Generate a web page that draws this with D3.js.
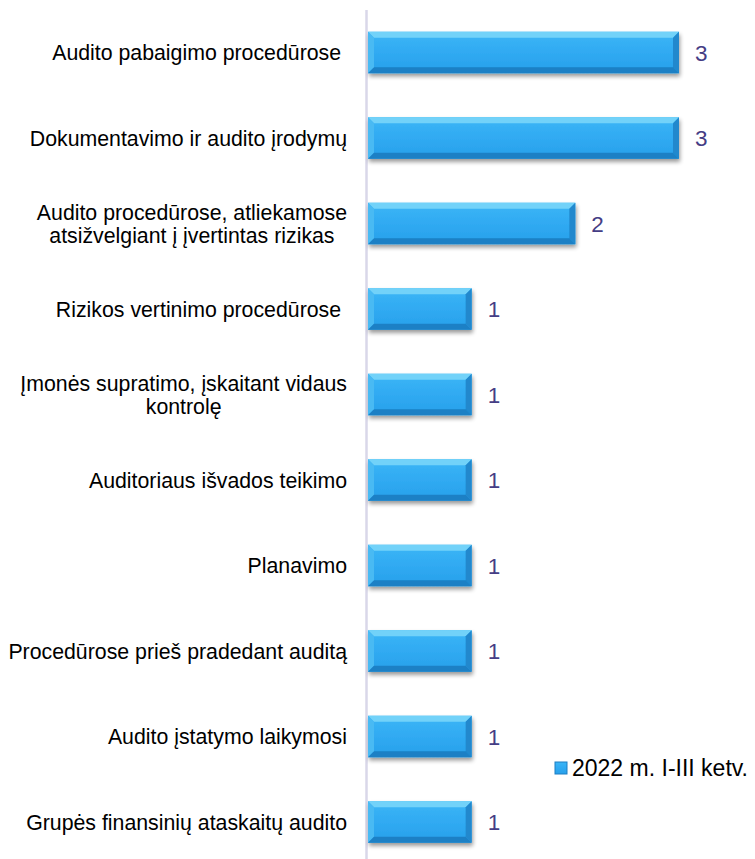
<!DOCTYPE html>
<html>
<head>
<meta charset="utf-8">
<script src="https://cdn.jsdelivr.net/npm/d3@7"></script>
<style>
  body { margin: 0; background: #fff; }
  svg { display: block; font-family: "Liberation Sans", Arial, sans-serif; }
</style>
</head>
<body>
<script>
// categories, top to bottom (each entry = lines of the label)
const categories = [
  ["Audito pabaigimo procedūrose "],
  ["Dokumentavimo ir audito įrodymų"],
  ["Audito procedūrose, atliekamose", "atsižvelgiant į įvertintas rizikas"],
  ["Rizikos vertinimo procedūrose "],
  ["Įmonės supratimo, įskaitant vidaus", "kontrolę"],
  ["Auditoriaus išvados teikimo"],
  ["Planavimo"],
  ["Procedūrose prieš pradedant auditą"],
  ["Audito įstatymo laikymosi"],
  ["Grupės finansinių ataskaitų audito"]
];
const values = [3, 3, 2, 1, 1, 1, 1, 1, 1, 1];
const seriesName = "2022 m. I-III ketv.";

const width = 755, height = 859;

const svg = d3.select("body").append("svg")
  .attr("width", width)
  .attr("height", height);

const data = categories.map((c, i) => ({ lines: c, value: values[i], key: i }));

const x = d3.scaleLinear().domain([0, 3]).range([368, 679]);
const y = d3.scaleBand()
  .domain(data.map(d => d.key))
  .range([9.75, 864.75])
  .paddingInner(0.515)
  .paddingOuter(0.2575);

// defs: gradient + shadow
const defs = svg.append("defs");
const grad = defs.append("linearGradient")
  .attr("id", "barGrad").attr("x1", 0).attr("y1", 0).attr("x2", 0).attr("y2", 1);
grad.append("stop").attr("offset", "0%").attr("stop-color", "#3cb6f6");
grad.append("stop").attr("offset", "50%").attr("stop-color", "#30aaf2");
grad.append("stop").attr("offset", "100%").attr("stop-color", "#28a0ea");

const shadow = defs.append("filter").attr("id", "shadow")
  .attr("x", "-10%").attr("y", "-20%").attr("width", "120%").attr("height", "160%");
shadow.append("feGaussianBlur").attr("in", "SourceAlpha").attr("stdDeviation", 2);
shadow.append("feOffset").attr("dx", 1).attr("dy", 3).attr("result", "ob");
shadow.append("feComponentTransfer").append("feFuncA").attr("type", "linear").attr("slope", 0.4);
const merge = shadow.append("feMerge");
merge.append("feMergeNode");
merge.append("feMergeNode").attr("in", "SourceGraphic");

// axis line
svg.append("line")
  .attr("x1", x(0) - 1.5).attr("x2", x(0) - 1.5)
  .attr("y1", 10).attr("y2", height)
  .attr("stroke", "#d9d7e9").attr("stroke-width", 2.5);

// bars with bevel
const bev = 6;
const bars = svg.append("g").selectAll("g")
  .data(data).join("g")
  .attr("filter", "url(#shadow)");

bars.append("rect")
  .attr("x", x(0)).attr("y", d => y(d.key))
  .attr("width", d => x(d.value) - x(0))
  .attr("height", y.bandwidth())
  .attr("fill", "url(#barGrad)");

function facet(d, side) {
  const x0 = x(0), x1 = x(d.value), y0 = y(d.key), y1 = y0 + y.bandwidth();
  const b = bev;
  if (side === "top") return `M${x0},${y0}L${x1},${y0}L${x1 - b},${y0 + b}L${x0 + b},${y0 + b}Z`;
  if (side === "bottom") return `M${x0},${y1}L${x1},${y1}L${x1 - b},${y1 - b}L${x0 + b},${y1 - b}Z`;
  if (side === "left") return `M${x0},${y0}L${x0 + b},${y0 + b}L${x0 + b},${y1 - b}L${x0},${y1}Z`;
  return `M${x1},${y0}L${x1 - b},${y0 + b}L${x1 - b},${y1 - b}L${x1},${y1}Z`;
}
bars.append("path").attr("d", d => facet(d, "top")).attr("fill", "#72d2f9");
bars.append("path").attr("d", d => facet(d, "left")).attr("fill", "#48baf3");
bars.append("path").attr("d", d => facet(d, "right")).attr("fill", "#2088cd");
bars.append("path").attr("d", d => facet(d, "bottom")).attr("fill", "#1d80c5");

// value labels
svg.append("g").selectAll("text")
  .data(data).join("text")
  .attr("x", d => x(d.value) + 16)
  .attr("y", d => y(d.key) + y.bandwidth() / 2)
  .attr("dy", "0.36em")
  .attr("font-size", 22.5)
  .attr("fill", "#453d85")
  .text(d => d.value);

// category labels: block right-aligned, lines centred within block
const lineH = 23;
const labels = svg.append("g").selectAll("text")
  .data(data).join("text")
  .attr("font-size", 21.3)
  .attr("fill", "#000")
  .style("white-space", "pre");

labels.each(function(d) {
  const t = d3.select(this);
  const cy = y(d.key) + y.bandwidth() / 2;
  const n = d.lines.length;
  const spans = d.lines.map((l, i) => t.append("tspan")
    .attr("y", cy + (i - (n - 1) / 2) * lineH)
    .attr("dy", "0.36em")
    .text(l));
  const w = d3.max(spans, s => s.node().getComputedTextLength());
  const right = 347;
  spans.forEach(s => {
    if (n === 1) s.attr("x", right).attr("text-anchor", "end");
    else s.attr("x", right - w / 2).attr("text-anchor", "middle");
  });
});

// legend
const leg = svg.append("g");
leg.append("rect")
  .attr("x", 555).attr("y", 762).attr("width", 12).attr("height", 12)
  .attr("fill", "url(#barGrad)").attr("stroke", "#1c7fc4").attr("stroke-width", 1);
leg.append("text")
  .attr("x", 572).attr("y", 768).attr("dy", "0.36em")
  .attr("font-size", 23).attr("fill", "#000")
  .text(seriesName);
</script>
</body>
</html>
